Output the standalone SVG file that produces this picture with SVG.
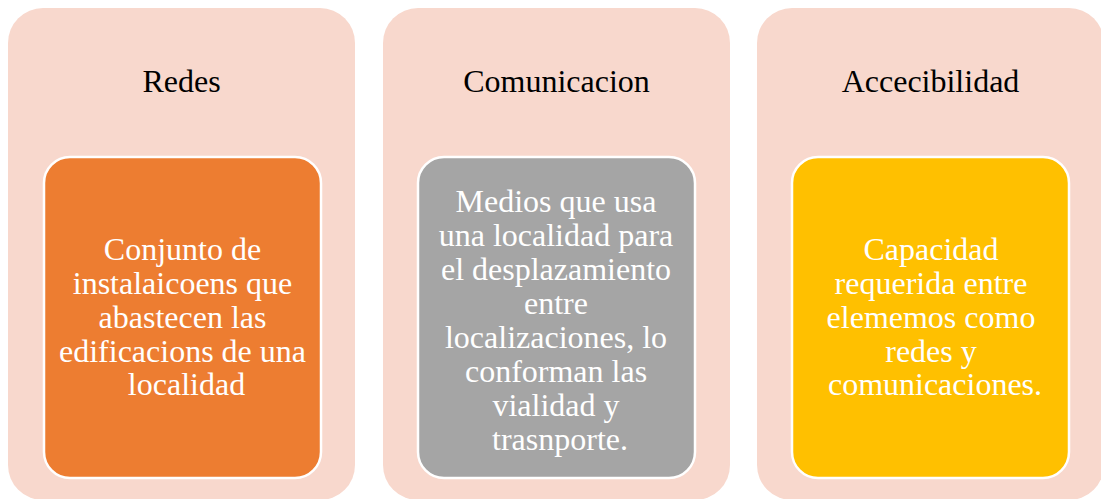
<svg xmlns="http://www.w3.org/2000/svg" width="1101" height="499" viewBox="0 0 1101 499">
<style>
.outer{fill:#F8D8CD}
.inner{stroke:#FFFFFF;stroke-width:2.5}
.title{font-family:"Liberation Serif",serif;font-size:32px;fill:#000000;text-anchor:middle}
.body{font-family:"Liberation Serif",serif;font-size:32px;fill:#FFFFFF;text-anchor:middle}
</style>
<rect x="0" y="0" width="1101" height="499" fill="#FFFFFF"/>
<g id="redes">
<rect class="outer" x="8" y="8" width="347" height="492" rx="35" ry="35"/>
<text class="title" x="181.5" y="92">Redes</text>
<rect class="inner" x="44" y="157" width="277" height="321" rx="26" ry="26" fill="#ED7D31"/>
<text class="body">
<tspan x="186.5" y="260">Conjunto de</tspan>
<tspan x="186.5" y="294">instalaicoens que</tspan>
<tspan x="186.5" y="328">abastecen las</tspan>
<tspan x="186.5" y="362">edificacions de una</tspan>
<tspan x="186.5" y="395">localidad</tspan>
</text>
</g>
<g id="comunicacion">
<rect class="outer" x="383" y="8" width="347" height="492" rx="35" ry="35"/>
<text class="title" x="556.5" y="92">Comunicacion</text>
<rect class="inner" x="418" y="157" width="277" height="321" rx="26" ry="26" fill="#A5A5A5"/>
<text class="body">
<tspan x="560" y="212">Medios que usa</tspan>
<tspan x="560" y="246">una localidad para</tspan>
<tspan x="560" y="280">el desplazamiento</tspan>
<tspan x="560" y="314">entre</tspan>
<tspan x="560" y="348">localizaciones, lo</tspan>
<tspan x="560" y="382">conforman las</tspan>
<tspan x="560" y="416">vialidad y</tspan>
<tspan x="560" y="450">trasnporte.</tspan>
</text>
</g>
<g id="accecibilidad">
<rect class="outer" x="757" y="8" width="347" height="492" rx="35" ry="35"/>
<text class="title" x="930.5" y="92">Accecibilidad</text>
<rect class="inner" x="792" y="157" width="277" height="321" rx="26" ry="26" fill="#FFC000"/>
<text class="body">
<tspan x="935" y="260">Capacidad</tspan>
<tspan x="935" y="294">requerida entre</tspan>
<tspan x="935" y="328">elememos como</tspan>
<tspan x="935" y="362">redes y</tspan>
<tspan x="935" y="395">comunicaciones.</tspan>
</text>
</g>
<g id="connectors"></g>
</svg>
